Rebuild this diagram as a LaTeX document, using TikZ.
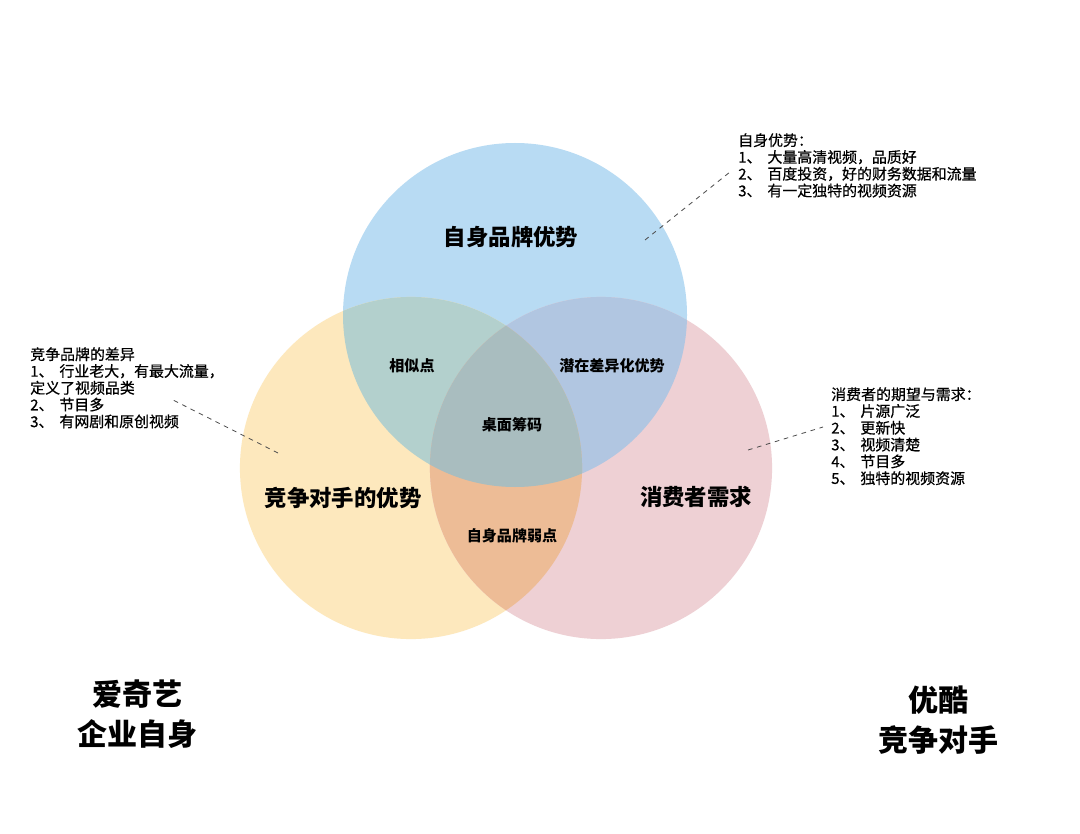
\documentclass[tikz,border=0pt]{standalone}
\usepackage{fontspec}
\setmainfont{Noto Sans CJK SC}
\newfontfamily\notefont{Noto Sans CJK SC}[FakeBold=0.6]
\definecolor{blueC}{HTML}{B8DBF3}
\definecolor{yellowC}{HTML}{FDE8BD}
\definecolor{pinkC}{HTML}{EED0D4}
\definecolor{byC}{HTML}{B3D0CD}
\definecolor{bpC}{HTML}{B1C6E1}
\definecolor{ypC}{HTML}{EDBC96}
\definecolor{cenC}{HTML}{A9BDBF}
\begin{document}
\begin{tikzpicture}[x=0.75pt,y=-0.75pt,
  big/.style={font=\bfseries\fontsize{16.8}{20}\selectfont, inner sep=0pt},
  mid/.style={font=\bfseries\fontsize{11.3}{13}\selectfont, inner sep=0pt},
  note/.style={font=\notefont\fontsize{11.2}{12.6}\selectfont, align=left, anchor=north west, inner sep=0pt},
  corner/.style={font=\bfseries\fontsize{22.5}{30.5}\selectfont, align=center, inner sep=0pt},
  leader/.style={draw=black!70, dash pattern=on 3.5pt off 3.5pt, line width=0.6pt}]
\useasboundingbox (0,0) rectangle (1080,834);
\fill[white] (0,0) rectangle (1080,834);
\coordinate (cb) at (515,315);
\coordinate (cy) at (411,468);
\coordinate (cp) at (601,468);
\def\rb{129pt}
\def\rr{128.3pt}
% circles
\fill[blueC] (cb) circle[radius=\rb];
\fill[yellowC] (cy) circle[radius=\rr];
\fill[pinkC] (cp) circle[radius=\rr];
\begin{scope}
  \clip (cb) circle[radius=\rb];
  \fill[byC] (cy) circle[radius=\rr];
  \fill[bpC] (cp) circle[radius=\rr];
\end{scope}
\begin{scope}
  \clip (cy) circle[radius=\rr];
  \fill[ypC] (cp) circle[radius=\rr];
  \clip (cb) circle[radius=\rb];
  \fill[cenC] (cp) circle[radius=\rr];
\end{scope}
% labels
\node[big] (own) at (511,237) {自身品牌优势};
\node[big] (comp) at (343,498) {竞争对手的优势};
\node[big] (cons) at (696,497) {消费者需求};
\node[mid] (sim) at (412,366) {相似点};
\node[mid] (pot) at (612,366) {潜在差异化优势};
\node[mid] (chip) at (512,425) {桌面筹码};
\node[mid] (weak) at (512,536) {自身品牌弱点};
% notes
\node[note] (n1) at (738,133) {自身优势：\\1、\hspace{0.4em}大量高清视频，品质好\\2、\hspace{0.4em}百度投资，好的财务数据和流量\\3、\hspace{0.4em}有一定独特的视频资源};
\node[note] (n2) at (30,347) {竞争品牌的差异\\1、\hspace{0.4em}行业老大，有最大流量，\\定义了视频品类\\2、\hspace{0.4em}节目多\\3、\hspace{0.4em}有网剧和原创视频};
\node[note] (n3) at (831,387) {消费者的期望与需求：\\1、\hspace{0.4em}片源广泛\\2、\hspace{0.4em}更新快\\3、\hspace{0.4em}视频清楚\\4、\hspace{0.4em}节目多\\5、\hspace{0.4em}独特的视频资源};
% leaders
\coordinate (a1) at (645,240);
\coordinate (a2) at (730,172);
\coordinate (b1) at (278,453);
\coordinate (b2) at (173,400);
\coordinate (c1) at (748,450);
\coordinate (c2) at (823,427);
\draw[leader] (a1) -- (a2);
\draw[leader] (b1) -- (b2);
\draw[leader] (c1) -- (c2);
% corner labels
\node[corner] (iqy) at (137,714) {爱奇艺\\企业自身};
\node[corner] (yk) at (938,720) {优酷\\竞争对手};
\end{tikzpicture}
\end{document}
